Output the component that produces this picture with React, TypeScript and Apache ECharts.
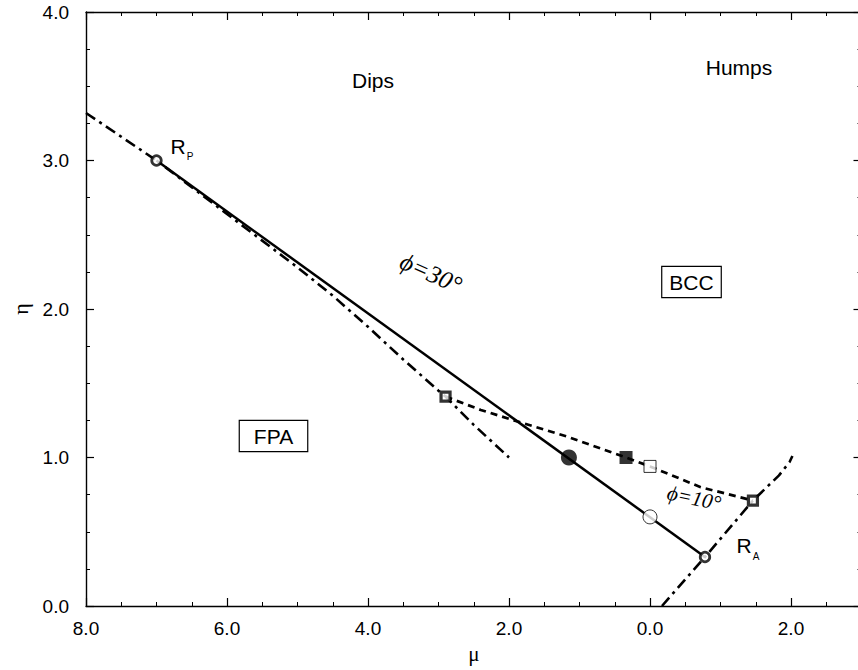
import React, { useEffect, useRef } from "react";
import * as echarts from "echarts";

// ---- data (mu, eta) ----
const solidLine = [[7.0, 3.0], [-0.78, 0.33]];
const dashDotLeft = [[8.0, 3.32], [7.0, 3.0], [6.0, 2.64], [5.0, 2.28], [4.5, 2.09], [4.0, 1.88], [3.5, 1.66], [3.0, 1.45], [2.9, 1.41], [2.5, 1.22], [2.0, 1.0]];
const dashedPhi10 = [[2.9, 1.41], [2.4, 1.32], [1.93, 1.25], [1.17, 1.14], [0.34, 1.0], [0.0, 0.94], [-0.72, 0.8], [-1.46, 0.71]];
const dashDotRight = [[-0.17, 0.0], [-0.78, 0.33], [-1.46, 0.71], [-1.83, 0.88], [-1.98, 0.97], [-2.02, 1.01]];
const ringMarkers = [[7.0, 3.0], [-0.78, 0.33]];
const filledCircle = [[1.15, 1.0]];
const openCircle = [[0.0, 0.6]];
const smallSquares = [[2.9, 1.41], [-1.46, 0.71]];
const filledSquare = [[0.34, 1.0]];
const openSquare = [[0.0, 0.94]];

const SANS = "Liberation Sans, Arial, sans-serif";
const SERIF = "Liberation Serif, DejaVu Serif, serif";

function txt(x: number, y: number, text: string, fontSize: number, extra: any = {}, rotation = 0) {
  return {
    type: "text",
    x,
    y,
    rotation,
    silent: true,
    z: 100,
    style: {
      text,
      fontSize,
      fontFamily: SANS,
      fill: "#000",
      align: "center",
      verticalAlign: "middle",
      textAlign: "center",
      textVerticalAlign: "middle",
      ...extra,
    },
  };
}

export default function App() {
  const ref = useRef<HTMLDivElement>(null);
  useEffect(() => {
    if (!ref.current) return;
    const chart = echarts.init(ref.current, undefined, { renderer: "svg" });
    const axisLine = { show: true, onZero: false, lineStyle: { color: "#000", width: 1.4 } };
    const axisTick = { show: true, inside: true, length: 8, lineStyle: { color: "#000", width: 1.2 } };
    const minorTick = { show: true, splitNumber: 4, length: 4, lineStyle: { color: "#000", width: 1 } };
    const lineStyleBase = { color: "#000", width: 2 };
    const option: any = {
      animation: false,
      backgroundColor: "#fff",
      grid: { left: 86, top: 12, width: 775.5, height: 594, containLabel: false },
      xAxis: [
        {
          type: "value",
          min: -3,
          max: 8,
          inverse: true,
          position: "bottom",
          splitNumber: 5,
          name: "μ",
          nameLocation: "middle",
          nameGap: 37,
          nameTextStyle: { fontFamily: SERIF, fontSize: 21, color: "#000" },
          axisLine,
          axisTick,
          minorTick,
          splitLine: { show: false },
          axisLabel: {
            showMinLabel: false,
            formatter: (v: number) => Math.abs(v).toFixed(1),
            fontSize: 19,
            fontFamily: SANS,
            color: "#000",
            margin: 13,
          },
        },
        {
          type: "value",
          min: -3,
          max: 8,
          inverse: true,
          position: "top",
          splitNumber: 5,
          axisLine,
          axisTick,
          minorTick,
          splitLine: { show: false },
          axisLabel: { show: false },
        },
      ],
      yAxis: [
        {
          type: "value",
          min: 0,
          max: 4,
          interval: 1,
          position: "left",
          name: "η",
          nameLocation: "middle",
          nameGap: 54,
          nameTextStyle: { fontFamily: SERIF, fontSize: 22, color: "#000" },
          axisLine,
          axisTick,
          minorTick,
          splitLine: { show: false },
          axisLabel: {
            formatter: (v: number) => v.toFixed(1),
            fontSize: 19,
            fontFamily: SANS,
            color: "#000",
            margin: 17,
          },
        },
        {
          type: "value",
          min: 0,
          max: 4,
          interval: 1,
          position: "right",
          axisLine,
          axisTick,
          minorTick,
          splitLine: { show: false },
          axisLabel: { show: false },
        },
      ],
      series: [
        {
          type: "line",
          data: solidLine,
          symbol: "none",
          lineStyle: { ...lineStyleBase, width: 2.5 },
          z: 3,
        },
        {
          type: "line",
          data: dashDotLeft,
          symbol: "none",
          lineStyle: { ...lineStyleBase, width: 2.6, type: [11, 5, 3, 5] },
          z: 2,
        },
        {
          type: "line",
          data: dashedPhi10,
          symbol: "none",
          lineStyle: { ...lineStyleBase, width: 2.7, type: [7, 5] },
          z: 2,
        },
        {
          type: "line",
          data: dashDotRight,
          symbol: "none",
          lineStyle: { ...lineStyleBase, width: 2.6, type: [11, 5, 3, 5] },
          z: 2,
        },
        {
          type: "scatter",
          data: ringMarkers,
          symbol: "circle",
          symbolSize: 9.5,
          itemStyle: { color: "#fff", borderColor: "#000", borderWidth: 2.8 },
          z: 5,
        },
        {
          type: "scatter",
          data: filledCircle,
          symbol: "circle",
          symbolSize: 16,
          itemStyle: { color: "#000" },
          z: 5,
        },
        {
          type: "scatter",
          data: openCircle,
          symbol: "circle",
          symbolSize: 14,
          itemStyle: { color: "#fff", borderColor: "#000", borderWidth: 1 },
          z: 5,
        },
        {
          type: "scatter",
          data: smallSquares,
          symbol: "rect",
          symbolSize: 9,
          itemStyle: { color: "#fff", borderColor: "#000", borderWidth: 3.2 },
          z: 5,
        },
        {
          type: "scatter",
          data: filledSquare,
          symbol: "rect",
          symbolSize: 13,
          itemStyle: { color: "#000" },
          z: 5,
        },
        {
          type: "scatter",
          data: openSquare,
          symbol: "rect",
          symbolSize: 12,
          itemStyle: { color: "#fff", borderColor: "#000", borderWidth: 1 },
          z: 5,
        },
      ],
      graphic: [
        txt(373, 80, "Dips", 21),
        txt(739, 67, "Humps", 21),
        txt(178, 146, "R", 21),
        txt(190, 156, "P", 10),
        txt(744, 545, "R", 21),
        txt(756, 556, "A", 10),
        txt(273.5, 436, "FPA", 21, {
          padding: [5, 14, 4, 14],
          borderColor: "#000",
          borderWidth: 1.2,
          backgroundColor: "#fff",
        }),
        txt(691.5, 282, "BCC", 21, {
          padding: [5, 7, 4, 7],
          borderColor: "#000",
          borderWidth: 1.2,
          backgroundColor: "#fff",
        }),
        txt(431, 273, "ϕ=30°", 25, { fontFamily: SERIF, fontStyle: "italic" }, -0.42),
        txt(694, 498, "ϕ=10°", 21, { fontFamily: SERIF, fontStyle: "italic" }, -0.21),
      ],
    };
    chart.setOption(option);
    return () => chart.dispose();
  }, []);
  return (
    <div
      style={{
        position: "fixed",
        left: 0,
        top: 0,
        width: 858,
        height: 670,
        overflow: "hidden",
        background: "#fff",
      }}
    >
      <div ref={ref} style={{ width: 880, height: 670 }} />
    </div>
  );
}
